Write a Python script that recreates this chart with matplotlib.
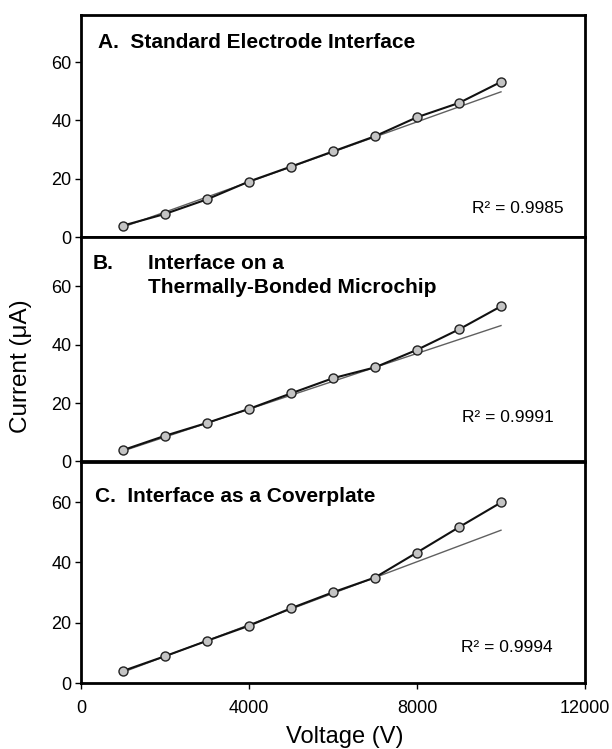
import matplotlib
matplotlib.use("Agg")
import matplotlib.pyplot as plt

plt.rcParams['font.family'] = ['Liberation Sans', 'DejaVu Sans']

# voltage steps (V)
voltage = [1000, 2000, 3000, 4000, 5000, 6000, 7000, 8000, 9000, 10000]

current_a = [4.0, 8.0, 13.0, 19.1, 24.2, 29.4, 34.6, 41.1, 46.0, 53.2]
current_b = [3.9, 8.8, 13.2, 18.0, 23.3, 28.5, 32.2, 38.2, 45.2, 53.1]
current_c = [4.0, 8.9, 14.0, 19.0, 24.8, 30.1, 35.0, 43.3, 51.7, 59.9]

# linear fit lines (value at 1000 V and at 10000 V)
fit_x = [1000, 10000]
fit_a = [3.5, 49.8]
fit_b = [3.6, 46.5]
fit_c = [3.6, 50.7]

r2_labels = ["R\u00b2 = 0.9985", "R\u00b2 = 0.9991", "R\u00b2 = 0.9994"]
y_tops = [76.1, 76.7, 73.5]

W, H = 612, 749
fig = plt.figure(figsize=(W / 100, H / 100), dpi=100)


def px(x, y):
    # pixel position -> figure fraction
    return x / W, 1 - y / H


left_px, right_px = 81, 585
edges = [(15, 237.3), (237.3, 461.5), (461.5, 683)]
series = [current_a, current_b, current_c]
fits = [fit_a, fit_b, fit_c]
r2_pos = [(564, 213.3), (554, 421.7), (553, 651.7)]

for i in range(3):
    top, bot = edges[i]
    ax = fig.add_axes([left_px / W, 1 - bot / H, (right_px - left_px) / W, (bot - top) / H])
    ax.plot(fit_x, fits[i], color="#606060", lw=1.0, zorder=2)
    ax.plot(voltage, series[i], color="#111111", lw=1.5, marker="o",
            markersize=6.5, markerfacecolor="#c4c4c4", markeredgecolor="#222222",
            markeredgewidth=1.0, zorder=3)
    ax.set_xlim(0, 12000)
    ax.set_ylim(0, y_tops[i])
    ax.set_xticks([0, 4000, 8000, 12000])
    ax.set_yticks([0, 20, 40, 60])
    for s in ax.spines.values():
        s.set_linewidth(2)
    ax.tick_params(direction="out", length=4, width=1, labelsize=13)
    ax.tick_params(axis="y", pad=3)
    ax.tick_params(axis="x", pad=8.5)
    if i < 2:
        ax.tick_params(axis="x", labelbottom=False)
    fig.text(*px(*r2_pos[i]), r2_labels[i], fontsize=12.5, ha="right", va="baseline")

# panel titles
fig.text(*px(98, 48.3), "A.  Standard Electrode Interface", fontsize=15,
         fontweight="bold", va="baseline")
fig.text(*px(92.5, 269.3), "B.", fontsize=15, fontweight="bold", va="baseline")
fig.text(*px(148.5, 269.3), "Interface on a", fontsize=15, fontweight="bold", va="baseline")
fig.text(*px(148.5, 293.3), "Thermally-Bonded Microchip", fontsize=15,
         fontweight="bold", va="baseline")
fig.text(*px(95, 501.7), "C.  Interface as a Coverplate", fontsize=15,
         fontweight="bold", va="baseline")

fig.text(*px(345, 743), "Voltage (V)", fontsize=17, ha="center", va="baseline")
fig.text(*px(21, 366), "Current (\u03bcA)", rotation=90, fontsize=17.5,
         ha="center", va="center")

fig.savefig("out.png", dpi=100)
